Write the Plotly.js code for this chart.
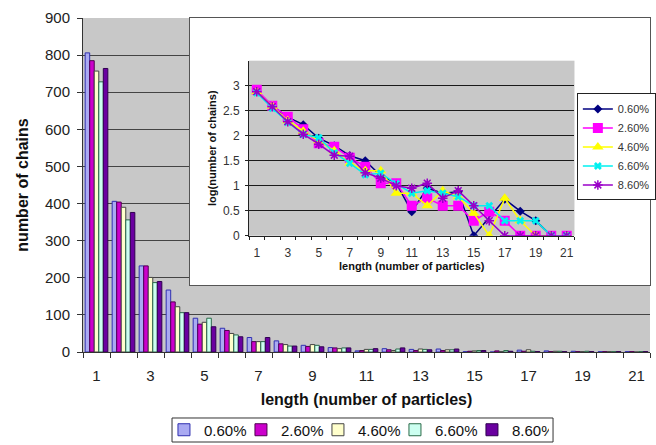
<!DOCTYPE html>
<html>
<head>
<meta charset="utf-8">
<script src="https://cdn.plot.ly/plotly-3.0.1.min.js"></script>
<style>html,body{margin:0;padding:0;background:#fff;}#chart{width:656px;height:445px;}</style>
</head>
<body>
<div id="chart"></div>
<script>
// ---- data ----
const lengths = [1,2,3,4,5,6,7,8,9,10,11,12,13,14,15,16,17,18,19,20,21];
const oddTicks = [1,3,5,7,9,11,13,15,17,19,21];
const seriesNames = ['0.60%','2.60%','4.60%','6.60%','8.60%'];

// number of chains (main bar chart)
const count060 = [806,406,232,167,91,64,39,30,18,12,3,9,7,8,1,0,5,3,2,1,1];
const count260 = [785,404,232,135,75,58,28,22,15,11,4,6,4,4,2,3,2,1,1,1,1];
const count460 = [757,390,201,122,80,50,28,20,20,9,7,4,8,6,3,1,6,2,1,1,0];
const count660 = [728,356,187,106,91,46,28,16,18,11,7,8,7,6,4,4,2,2,2,1,1];
const count860 = [764,376,190,106,68,41,39,16,14,11,9,11,6,8,4,2,1,1,1,1,1];

// log(number of chains) (inset line chart)
const log060 = [2.9,2.6,2.37,2.22,1.95,1.8,1.6,1.5,1.2,1.05,0.48,0.95,0.85,0.88,0,null,0.73,0.49,0.3,0,0];
const log260 = [2.92,2.6,2.38,2.13,1.85,1.78,1.56,1.38,1.05,1.05,0.6,0.75,0.6,0.6,0.3,0.48,0.3,0,0,0,0];
const log460 = [2.88,2.59,2.3,2.09,1.9,1.7,1.45,1.3,1.3,0.85,0.85,0.6,0.9,0.78,0.45,0,0.75,0.3,0,0,0];
const log660 = [2.86,2.55,2.27,2.03,1.96,1.66,1.45,1.22,1.25,1.04,0.85,0.9,0.85,0.78,0.6,0.6,0.3,0.3,0.3,0,0];
const log860 = [2.88,2.58,2.28,2.03,1.83,1.61,1.59,1.26,1.15,1.0,0.95,1.05,0.75,0.9,0.6,0.3,0,0,0,0,0];

// ---- styles ----
const FONT = 'Liberation Sans, Arial, sans-serif';
const barFill = ['#aaaaf2','#cc00cc','#ffffcc','#ccfff0','#6a00a0'];
const barLine = ['#3030b0','#500050','#444444','#2a6a48','#300050'];
const lineColor = ['#000080','#ff00ff','#ffff00','#00f0f0','#9a00c8'];
const lineSymbol = ['diamond','square','triangle-up','x','asterisk-open'];
const lineSize = [7,10,10,7,8];

const counts = [count060,count260,count460,count660,count860];
const logs = [log060,log260,log460,log660,log860];

const traces = [];
counts.forEach((c,i)=>{
  traces.push({
    type:'bar', x:lengths, y:c, name:seriesNames[i], xaxis:'x', yaxis:'y',
    marker:{color:barFill[i], line:{color:barLine[i], width:1}},
    legend:'legend', hoverinfo:'x+y+name'
  });
});
// empty trace to create the inset frame subplot
traces.push({type:'scatter', x:[null], y:[null], xaxis:'x2', yaxis:'y2', showlegend:false, hoverinfo:'skip'});
logs.forEach((l,i)=>{
  traces.push({
    type:'scatter', mode:'lines+markers', x:lengths, y:l, name:seriesNames[i],
    xaxis:'x3', yaxis:'y3', legend:'legend2', connectgaps:true,
    line:{color:lineColor[i], width:1.5},
    marker:{symbol:lineSymbol[i], size:lineSize[i], color:lineColor[i], line:{color:lineColor[i], width: i===4?1.5:0}}
  });
});

const layout = {
  width:656, height:445,
  margin:{l:83, r:6, t:18, b:93, autoexpand:false},
  paper_bgcolor:'#ffffff', plot_bgcolor:'#c8c8c8',
  font:{family:FONT, color:'#222'},
  barmode:'group', bargap:0.16, bargroupgap:0,
  showlegend:true,
  xaxis:{
    range:[0.5,21.5], tickmode:'array', tickvals:oddTicks, ticktext:oddTicks.map(String),
    ticks:'', showgrid:false, zeroline:false, showline:true, linecolor:'#333', linewidth:1,
    tickfont:{size:15, color:'#222'}, ticklabelstandoff:10, automargin:false,
    minor:{tick0:0.5, dtick:1, ticks:'outside', ticklen:5, tickcolor:'#333', showgrid:false},
    title:{text:'length (number of particles)', font:{size:16, weight:'bold', color:'#111'}, standoff:10},
    fixedrange:true
  },
  yaxis:{
    range:[0,900], dtick:100, tick0:0, showgrid:true, gridcolor:'#444', gridwidth:1,
    zeroline:false, ticks:'outside', ticklen:5, tickcolor:'#333', showline:true, linecolor:'#333',
    tickfont:{size:15, color:'#222'}, ticklabelstandoff:4, automargin:false,
    title:{text:'number of chains', font:{size:16, weight:'bold', color:'#111'}, standoff:12},
    fixedrange:true
  },
  xaxis2:{domain:[0.1887,1], range:[0,1], anchor:'y2', showgrid:false, zeroline:false,
    showticklabels:false, ticks:'', showline:true, mirror:true, linecolor:'#555', linewidth:1, fixedrange:true},
  yaxis2:{domain:[0.2006,1], range:[0,1], anchor:'x2', showgrid:false, zeroline:false,
    showticklabels:false, ticks:'', showline:true, mirror:true, linecolor:'#555', linewidth:1, fixedrange:true},
  xaxis3:{
    domain:[0.2928,0.8668], anchor:'y3', range:[0.5,21.5], tickmode:'array', tickvals:oddTicks,
    ticktext:oddTicks.map(String), ticks:'', showgrid:false, zeroline:false, showline:true,
    linecolor:'#222', linewidth:1, tickfont:{size:12, color:'#333'}, ticklabelstandoff:6,
    minor:{tick0:0.5, dtick:1, ticks:'outside', ticklen:3, tickcolor:'#222', showgrid:false},
    title:{text:'length (number of particles)', font:{size:11, weight:'bold', color:'#111'}, standoff:2},
    fixedrange:true
  },
  yaxis3:{
    domain:[0.3482,0.8722], anchor:'x3', range:[0,3.5], tickmode:'array',
    tickvals:[0,0.5,1,1.5,2,2.5,3], ticktext:['0','0.5','1','1.5','2','2.5','3'],
    showgrid:true, gridcolor:'#1a1a1a', gridwidth:1.2, zeroline:false,
    ticks:'outside', ticklen:3, tickcolor:'#222', showline:true, linecolor:'#222',
    tickfont:{size:12, color:'#333'}, ticklabelstandoff:3,
    title:{text:'log(number of chains)', font:{size:11, weight:'bold', color:'#111'}, standoff:4},
    fixedrange:true
  },
  shapes:[
    {type:'rect', xref:'x2', yref:'y2', x0:0, x1:1, y0:0, y1:1, fillcolor:'#ffffff', line:{width:0}, layer:'below'},
    {type:'rect', xref:'paper', yref:'paper', x0:0.157, x1:0.829, y0:-0.2695, y1:-0.1976,
     fillcolor:'rgba(0,0,0,0)', line:{color:'#333', width:1}, layer:'above'}
  ],
  legend:{orientation:'h', x:0.4823, xanchor:'center', y:-0.2335, yanchor:'middle',
    borderwidth:0, bgcolor:'rgba(0,0,0,0)', font:{size:15, color:'#111'}, itemwidth:30,
    entrywidth:32, entrywidthmode:'pixels'},
  legend2:{x:0.871, xanchor:'left', y:0.6138, yanchor:'middle', bordercolor:'#222', borderwidth:1,
    bgcolor:'#fff', font:{size:11, color:'#333'}, itemwidth:30, tracegroupgap:0}
};

Plotly.newPlot('chart', traces, layout, {displayModeBar:false, staticPlot:true});
</script>
</body>
</html>
